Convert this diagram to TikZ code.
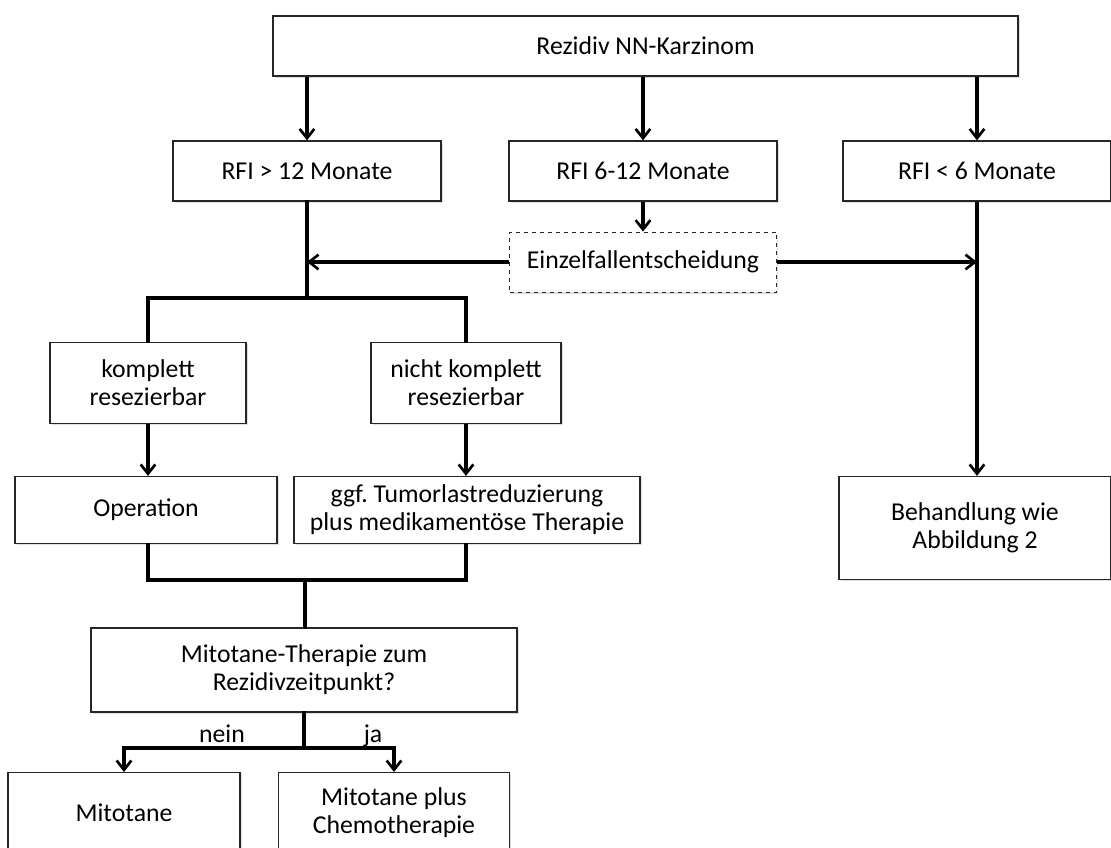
\documentclass[tikz,border=0pt]{standalone}
\usepackage{fontspec}
\setmainfont{Carlito}
\usetikzlibrary{arrows.meta,shadows}
\frenchspacing
\begin{document}
\begin{tikzpicture}[x=0.75pt,y=-0.75pt,
  bx/.style 2 args={draw=black!85, line width=0.9pt, fill=white, align=center,
    minimum width=#1*0.75pt, minimum height=#2*0.75pt, inner sep=2pt,
    font=\fontsize{19.3}{21}\selectfont,
    drop shadow={opacity=0.25, shadow xshift=1.2pt, shadow yshift=-1.2pt}},
  conn/.style={line width=2.3pt, line cap=rect},
  arr/.style={line width=2.3pt, -{Straight Barb[length=7pt,width=11pt,line width=2pt]}},
  lbl/.style={font=\fontsize{19.3}{21}\selectfont}]
\useasboundingbox (0,0) rectangle (1111,848);
\clip (0,0) rectangle (1111,848);
\fill[white] (0,0) rectangle (1111,848);
% nodes
\node[bx={745}{60}] (top) at (645.5,46) {Rezidiv NN-Karzinom};
\node[bx={268}{60}] (r1) at (307,171) {RFI > 12 Monate};
\node[bx={268}{60}] (r2) at (643,171) {RFI 6-12 Monate};
\node[bx={268}{60}] (r3) at (977,171) {RFI < 6 Monate};
\node[bx={267}{60}, dashed, line width=0.6pt] (ez) at (643,262) {Einzelfallentscheidung};
\node[bx={196}{81}] (k1) at (148,383) {komplett\\resezierbar};
\node[bx={190}{81}] (k2) at (466,383) {nicht komplett\\resezierbar};
\node[bx={262}{67}] (op) at (146,510) {Operation};
\node[bx={346}{67}] (tu) at (467,510) {ggf. Tumorlastreduzierung\\plus medikamentöse Therapie};
\node[bx={272}{103}] (be) at (975,528) {Behandlung wie\\Abbildung 2};
\node[bx={426}{84}] (mt) at (304,670) {Mitotane-Therapie zum\\Rezidivzeitpunkt?};
\node[bx={232}{86}, anchor=north] (m1) at (124,772) {};
\node[bx={231}{86}, anchor=north] (m2) at (394,772) {};
\node[lbl] (m1t) at (124,813) {Mitotane};
\node[lbl, align=center] (m2t) at (394,813) {Mitotane plus\\Chemotherapie};
\node[lbl, anchor=base] (nein) at (222,742) {nein};
\node[lbl, anchor=base] (ja) at (373,742) {ja};
% coordinates
\coordinate (j1) at (307,298);
\coordinate (j2) at (305,580);
\coordinate (j3) at (304,748);
% connectors
\draw[arr] (r1.north |- top.south) -- (r1.north);
\draw[arr] (r2.north |- top.south) -- (r2.north);
\draw[arr] (r3.north |- top.south) -- (r3.north);
\draw[arr] (r2.south) -- (ez.north);
\draw[arr] (ez.west) -- (r1.center |- ez.west);
\draw[arr] (ez.east) -- (r3.center |- ez.east);
\draw[arr] (r3.south) -- (r3.south |- be.north);
\draw[conn] (r1.south) -- (j1);
\draw[conn] (k1.north) -- (k1.north |- j1) -- (k2.north |- j1) -- (k2.north);
\draw[arr] (k1.south) -- (k1.south |- op.north);
\draw[arr] (k2.south) -- (k2.south |- tu.north);
\draw[conn] (k1.south |- op.south) -- (k1.south |- j2) -- (k2.south |- j2) -- (k2.south |- tu.south);
\draw[conn] (j2) -- (j2 |- mt.north);
\draw[conn] (mt.south) -- (j3);
\draw[conn] (m1.north |- j3) -- (m2.north |- j3);
\draw[arr] (m1.north |- j3) -- (m1.north);
\draw[arr] (m2.north |- j3) -- (m2.north);
\end{tikzpicture}
\end{document}
